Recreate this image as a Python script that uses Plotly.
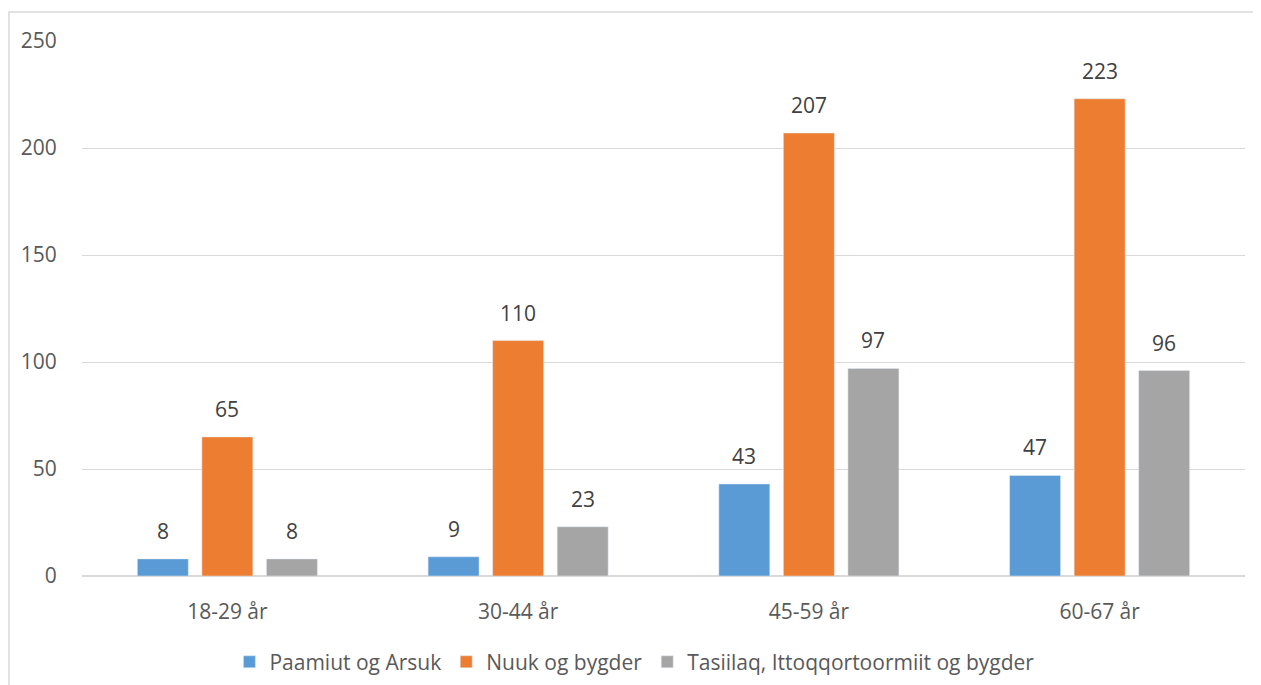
import plotly.graph_objects as go

categories = ["18-29 år", "30-44 år", "45-59 år", "60-67 år"]
series_names = ["Paamiut og Arsuk", "Nuuk og bygder", "Tasiilaq, Ittoqqortoormiit og bygder"]
paamiut = [8, 9, 43, 47]
nuuk = [65, 110, 207, 223]
tasiilaq = [8, 23, 97, 96]
colors = ["#5B9BD5", "#ED7D31", "#A5A5A5"]
y_ticks = [0, 50, 100, 150, 200, 250]

FONT = "Open Sans"
TXT = "#595959"
FS = 21

W, H = 1261, 685
ML, MR, MT, MB = 74, 24, 33, 117
BARGAP, GROUPGAP = 0.334, 0.21

plot_w = W - ML - MR
slot_px = plot_w / len(categories) * (1 - BARGAP) / len(series_names)

fig = go.Figure()
annotations = []
all_series = [paamiut, nuuk, tasiilaq]
for i, (name, vals, col) in enumerate(zip(series_names, all_series, colors)):
    fig.add_trace(go.Bar(x=categories, y=vals, name=name, marker_color=col))
    shift = (i - (len(series_names) - 1) / 2) * slot_px
    for c, v in zip(categories, vals):
        annotations.append(dict(x=c, y=v, xref="x", yref="y", text=str(v),
                                showarrow=False, xshift=shift, yshift=12,
                                yanchor="bottom",
                                font=dict(family=FONT, size=FS, color="#404040")))

fig.update_layout(
    width=W, height=H,
    margin=dict(l=ML, r=MR, t=MT, b=MB, autoexpand=False),
    paper_bgcolor="white", plot_bgcolor="white",
    barmode="group", bargap=BARGAP, bargroupgap=GROUPGAP,
    font=dict(family=FONT, size=FS, color=TXT),
    showlegend=True,
    legend=dict(orientation="h", x=0.475, xanchor="center", y=-0.161, yanchor="middle",
                font=dict(family=FONT, size=FS, color=TXT), itemwidth=30,
                traceorder="normal"),
    xaxis=dict(showgrid=False, showline=False, ticks="outside", ticklen=17,
               tickcolor="rgba(0,0,0,0)", tickfont=dict(family=FONT, size=FS, color=TXT)),
    yaxis=dict(range=[0, 250], tickvals=y_ticks, showgrid=True, gridcolor="#D9D9D9",
               gridwidth=1.3, zeroline=True, zerolinecolor="#D9D9D9", zerolinewidth=1.5,
               showline=False, ticks="outside", ticklen=20, tickcolor="rgba(0,0,0,0)",
               tickfont=dict(family=FONT, size=FS, color=TXT)),
    annotations=annotations,
    shapes=[dict(type="rect", xref="paper", yref="paper",
                 x0=-0.0628, x1=1.2, y0=-0.6, y1=1.0542,
                 line=dict(color="#D9D9D9", width=1.5), fillcolor="rgba(0,0,0,0)",
                 layer="below")],
)

fig.write_html("out.html")
